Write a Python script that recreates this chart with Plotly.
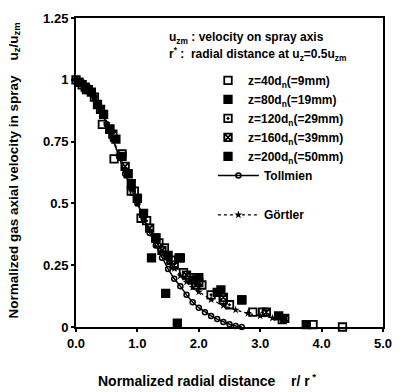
import plotly.graph_objects as go

# ---- data ----
x40 = [0.0, 0.17, 0.43, 0.62, 0.9, 1.06, 1.3, 1.44, 1.68, 1.85, 2.05, 2.4, 2.88, 3.36, 3.86, 4.34]
y40 = [1.0, 0.96, 0.82, 0.68, 0.55, 0.44, 0.36, 0.32, 0.28, 0.20, 0.17, 0.11, 0.06, 0.03, 0.01, 0.0]

x80 = [0.05, 0.25, 0.45, 0.65, 0.85, 1.0, 1.23, 1.46, 1.65, 1.9, 2.3, 2.7, 3.75]
y80 = [0.99, 0.95, 0.86, 0.76, 0.62, 0.52, 0.28, 0.136, 0.016, 0.19, 0.14, 0.11, 0.01]

x120 = [0.1, 0.3, 0.55, 0.75, 0.95, 1.15, 1.35, 1.55, 1.75, 1.95, 2.2, 2.5, 3.04]
y120 = [0.98, 0.93, 0.80, 0.70, 0.55, 0.43, 0.34, 0.27, 0.22, 0.17, 0.13, 0.09, 0.06]

x160 = [0.2, 0.4, 0.6, 0.8, 1.0, 1.2, 1.4, 1.6, 1.8, 2.0, 2.4, 3.1, 3.4]
y160 = [0.96, 0.88, 0.78, 0.65, 0.52, 0.40, 0.31, 0.25, 0.21, 0.18, 0.12, 0.06, 0.035]

x200 = [0.15, 0.35, 0.55, 0.75, 0.9, 1.1, 1.3, 1.5, 1.7, 2.0, 2.36, 2.7, 3.3]
y200 = [0.97, 0.90, 0.80, 0.69, 0.58, 0.46, 0.36, 0.29, 0.28, 0.20, 0.15, 0.11, 0.045]

x_toll = [0.0, 0.1, 0.2, 0.3, 0.4, 0.5, 0.6, 0.7, 0.8, 0.9, 1.0, 1.1, 1.2, 1.3, 1.4,
          1.5, 1.6, 1.7, 1.8, 1.9, 2.0, 2.1, 2.2, 2.3, 2.4, 2.5, 2.6, 2.7]
y_toll = [1.0, 0.99, 0.97, 0.93, 0.88, 0.82, 0.76, 0.69, 0.62, 0.56, 0.50, 0.44, 0.38, 0.33, 0.28,
          0.235, 0.195, 0.165, 0.13, 0.10, 0.078, 0.06, 0.045, 0.032, 0.02, 0.011, 0.004, 0.0]

x_gort = [0.0, 0.1, 0.2, 0.3, 0.4, 0.5, 0.6, 0.7, 0.8, 0.9, 1.0, 1.1, 1.2, 1.3, 1.4, 1.5,
          1.6, 1.7, 1.8, 1.9, 2.0, 2.2, 2.4, 2.6, 2.8, 3.0, 3.2, 3.4]
y_gort = [1.0, 0.99, 0.967, 0.93, 0.88, 0.823, 0.762, 0.70, 0.636, 0.561, 0.5, 0.444, 0.392,
          0.346, 0.305, 0.268, 0.236, 0.207, 0.182, 0.161, 0.142, 0.111, 0.087, 0.069, 0.055,
          0.045, 0.036, 0.03]

labels = ["z=40d<sub>n</sub>(=9mm)", "z=80d<sub>n</sub>(=19mm)", "z=120d<sub>n</sub>(=29mm)",
          "z=160d<sub>n</sub>(=39mm)", "z=200d<sub>n</sub>(=50mm)"]

yticks = [0, 0.25, 0.5, 0.75, 1.0, 1.25]
yticktext = ["0", "0.25", "0.5", "0.75", "1", "1.25"]
xticks = [0, 1, 2, 3, 4, 5]
xticktext = ["0.0", "1.0", "2.0", "3.0", "4.0", "5.0"]

FONT = "Liberation Sans"
fig = go.Figure()

fig.add_trace(go.Scatter(x=x_toll, y=y_toll, mode="lines+markers", name="<b>Tollmien</b>",
                         line=dict(color="black", width=1.5),
                         marker=dict(symbol="circle-open", size=5, color="black", line=dict(width=1.5)),
                         cliponaxis=False, legend="legend2"))
fig.add_trace(go.Scatter(x=x_gort, y=y_gort, mode="lines+markers", name="<b>Görtler</b>",
                         line=dict(color="black", width=1.3, dash="dot"),
                         marker=dict(symbol="star", size=6, color="black"),
                         cliponaxis=False, legend="legend3"))

series = [(x40, y40, "square-open"), (x80, y80, "square"), (x120, y120, "square-open-dot"),
          (x160, y160, "square-x-open"), (x200, y200, "square")]
for i, ((xs, ys, sym), lab) in enumerate(zip(series, labels)):
    fig.add_trace(go.Scatter(x=xs, y=ys, mode="markers", name="<b>" + lab + "</b>",
                             marker=dict(symbol=sym, size=7.5, color="black", line=dict(width=1.8, color="black")),
                             cliponaxis=False, legendrank=i + 1))

leg_common = dict(xanchor="left", yanchor="top", bgcolor="rgba(0,0,0,0)",
                  font=dict(size=12, family=FONT))
fig.update_layout(
    width=403, height=392,
    margin=dict(l=76, r=11, t=14, b=65),
    paper_bgcolor="white", plot_bgcolor="white",
    font=dict(family=FONT, color="black", size=11),
    legend=dict(x=0.43, y=0.845, tracegroupgap=0, itemwidth=30, **leg_common),
    legend2=dict(x=0.446, y=0.537, itemwidth=41, **leg_common),
    legend3=dict(x=0.446, y=0.41, itemwidth=41, **leg_common),
    xaxis=dict(range=[0, 5], tickvals=xticks, ticktext=["<b>%s</b>" % t for t in xticktext],
               showgrid=False, zeroline=False, showline=True, linecolor="black", linewidth=2,
               mirror=True, ticks="outside", ticklen=3, tickwidth=1.5, tickcolor="black",
               tickfont=dict(size=13, family=FONT)),
    yaxis=dict(range=[0, 1.25], tickvals=yticks, ticktext=["<b>%s</b>" % t for t in yticktext],
               showgrid=False, zeroline=False, showline=True, linecolor="black", linewidth=2,
               mirror=True, ticks="outside", ticklen=3, tickwidth=1.5, tickcolor="black",
               tickfont=dict(size=13, family=FONT)),
    annotations=[
        dict(text="<b>u<sub>zm</sub> : velocity on spray axis</b>", xref="paper", yref="paper",
             x=0.298, y=0.935, xanchor="left", yanchor="middle", showarrow=False, font=dict(size=12)),
        dict(text="<b>r<sup>*</sup> :  radial distance at u<sub>z</sub>=0.5u<sub>zm</sub></b>", xref="paper", yref="paper",
             x=0.298, y=0.885, xanchor="left", yanchor="middle", showarrow=False, font=dict(size=12)),
        dict(text="<b>Normalized gas axial velocity in spray    u<sub>z</sub>/u<sub>zm</sub></b>",
             xref="paper", yref="paper", x=-0.2, y=0.505, textangle=-90, showarrow=False,
             xanchor="center", yanchor="middle", font=dict(size=13.5)),
        dict(text="<b>Normalized radial distance    r/ r<sup> *</sup></b>",
             xref="paper", yref="paper", x=0.427, y=-0.17, showarrow=False,
             xanchor="center", yanchor="middle", font=dict(size=14)),
    ],
)

fig.write_html("out.html")
